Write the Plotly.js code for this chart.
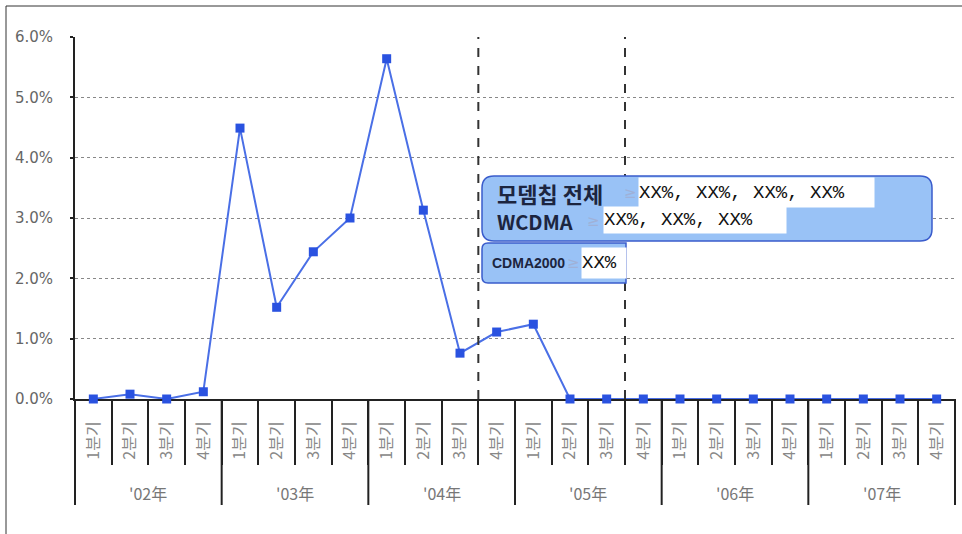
<!DOCTYPE html>
<html>
<head>
<meta charset="utf-8">
<script src="https://cdn.plot.ly/plotly-3.0.1.min.js"></script>
<style>html,body{margin:0;padding:0;background:#fff;}#chart{width:962px;height:534px;}</style>
</head>
<body>
<div id="chart"></div>
<script>
// ---- data ----
const quarterNames = ['1분기', '2분기', '3분기', '4분기'];
const years = ["'02年", "'03年", "'04年", "'05年", "'06年", "'07年"];
const values = [0.00, 0.08, 0.00, 0.12, 4.49, 1.52, 2.44, 3.00, 5.64, 3.13, 0.76, 1.11,
                1.24, 0.00, 0.00, 0.00, 0.00, 0.00, 0.00, 0.00, 0.00, 0.00, 0.00, 0.00];
const yTicks = [0, 1, 2, 3, 4, 5, 6];
const yTickText = ['0.0%', '1.0%', '2.0%', '3.0%', '4.0%', '5.0%', '6.0%'];
const dividers = [10.5, 14.5];

// ---- derived ----
const xIdx = values.map((v, i) => i);
const quarterLabels = xIdx.map(i => quarterNames[i % 4]);
const yearCenters = years.map((y, k) => k * 4 + 1.5);

// layout helpers (pixel -> paper)
const L = 75, T = 37, W = 880, H = 362;
const px = X => (X - L) / W;
const py = Y => (T + H - Y) / H;

function roundRect(x0, y0, x1, y1, r) {
  const a = px(x0), b = px(x1), top = py(y0), bot = py(y1);
  const rx = r / W, ry = r / H;
  return `M ${a + rx},${top} L ${b - rx},${top} Q ${b},${top} ${b},${top - ry} ` +
         `L ${b},${bot + ry} Q ${b},${bot} ${b - rx},${bot} L ${a + rx},${bot} ` +
         `Q ${a},${bot} ${a},${bot + ry} L ${a},${top - ry} Q ${a},${top} ${a + rx},${top} Z`;
}
function roundLeft(x0, y0, x1, y1, r) {
  const a = px(x0), b = px(x1), top = py(y0), bot = py(y1);
  const rx = r / W, ry = r / H;
  return `M ${a + rx},${top} L ${b},${top} L ${b},${bot} L ${a + rx},${bot} ` +
         `Q ${a},${bot} ${a},${bot + ry} L ${a},${top - ry} Q ${a},${top} ${a + rx},${top} Z`;
}

const trace = {
  x: xIdx, y: values, type: 'scatter', mode: 'lines+markers',
  line: {color: '#4a6fe6', width: 2},
  marker: {symbol: 'square', size: 9, color: '#2a52e0'},
  cliponaxis: false, hoverinfo: 'skip'
};

const shapes = [];
// year separators (long)
for (let k = 0; k <= years.length; k++) {
  shapes.push({type: 'line', xref: 'paper', yref: 'paper', x0: k / years.length, x1: k / years.length,
    y0: 0, y1: py(505), line: {color: '#222', width: 2}});
}
// dashed dividers
dividers.forEach(d => shapes.push({type: 'line', xref: 'x', yref: 'paper', x0: d, x1: d, y0: 0, y1: 1,
  line: {color: '#333', width: 2, dash: 'dash'}}));
// frame
shapes.push({type: 'line', xref: 'paper', yref: 'paper', x0: px(6), x1: px(962), y0: py(6), y1: py(6), line: {color: '#333', width: 1}});
shapes.push({type: 'line', xref: 'paper', yref: 'paper', x0: px(6), x1: px(6), y0: py(6), y1: py(534), line: {color: '#333', width: 1}});
// annotation boxes
shapes.push({type: 'path', xref: 'paper', yref: 'paper', path: roundRect(482, 176, 932, 241, 12),
  fillcolor: '#99c2f6', line: {color: '#3a5ccc', width: 1.5}});
shapes.push({type: 'path', xref: 'paper', yref: 'paper', path: roundLeft(482, 243, 626, 283, 6),
  fillcolor: '#99c2f6', line: {color: '#3a5ccc', width: 1.5}});

const annotations = [];
years.forEach((y, k) => annotations.push({
  text: y, x: yearCenters[k], xref: 'x', y: py(493), yref: 'paper', showarrow: false,
  xanchor: 'center', yanchor: 'middle', font: {family: 'Noto Sans CJK KR', size: 16, color: '#777'}
}));
const boldKo = {family: 'Noto Sans CJK KR', size: 22, color: '#1c2540'};
const boldFont = {family: 'Noto Sans CJK KR', size: 20, color: '#1c2540'};
const geFont = {family: 'DejaVu Sans', size: 15, color: '#9fb1d8'};
const monoFont = {family: 'Liberation Mono, DejaVu Sans Mono, monospace', size: 19, color: '#111'};
function ann(text, X, Y, font, extra) {
  return Object.assign({text, x: px(X), y: py(Y), xref: 'paper', yref: 'paper', showarrow: false,
    xanchor: 'left', yanchor: 'middle', font, borderpad: 0}, extra || {});
}
annotations.push(ann('<b>모뎀칩 전체</b>', 496, 193, boldKo));
annotations.push(ann('≥', 623, 193, geFont));
annotations.push(ann('XX%, XX%, XX%, XX%', 638, 192.5, monoFont, {bgcolor: '#fff', width: 235, height: 29, align: 'left'}));
annotations.push(ann('<b>WCDMA</b>', 496, 221, boldFont));
annotations.push(ann('≥', 586, 221, geFont));
annotations.push(ann('XX%, XX%, XX%', 603, 220, monoFont, {bgcolor: '#fff', width: 182, height: 26, align: 'left'}));
annotations.push(ann('<b>CDMA2000</b>', 491, 263,
  {family: 'Liberation Sans', size: 14, color: '#1c2540'}));
annotations.push(ann('≥', 566, 263, geFont));
annotations.push(ann('XX%', 581, 263, monoFont, {bgcolor: '#fff', width: 44, height: 30, align: 'left'}));

const layout = {
  width: 962, height: 534,
  margin: {l: L, r: 962 - L - W, t: T, b: 534 - T - H, pad: 0},
  paper_bgcolor: '#fff', plot_bgcolor: '#fff',
  showlegend: false,
  xaxis: {
    range: [-0.5, 23.5], tickmode: 'array', tickvals: xIdx, ticktext: quarterLabels,
    tickangle: -90, ticks: '', showgrid: false, zeroline: false,
    showline: true, linecolor: '#222', linewidth: 2, layer: 'below traces',
    tickfont: {family: 'Noto Sans CJK KR', size: 16, color: '#888'},
    ticklabelstandoff: 14,
    minor: {tickmode: 'linear', tick0: -0.5, dtick: 1, ticks: 'outside', ticklen: 64,
            tickwidth: 2, tickcolor: '#222', showgrid: false},
    fixedrange: true
  },
  yaxis: {
    range: [0, 6], tickmode: 'array', tickvals: yTicks, ticktext: yTickText,
    ticks: 'outside', ticklen: 3, tickcolor: '#222', tickwidth: 2,
    showline: true, linecolor: '#222', linewidth: 2, zeroline: false,
    showgrid: true, gridcolor: '#888', griddash: 'dot', gridwidth: 1,
    tickfont: {family: 'DejaVu Sans', size: 15, color: '#666'},
    ticklabelstandoff: 14, layer: 'below traces', fixedrange: true
  },
  shapes, annotations
};

Plotly.newPlot('chart', [trace], layout, {displayModeBar: false, staticPlot: true});
</script>
</body>
</html>
